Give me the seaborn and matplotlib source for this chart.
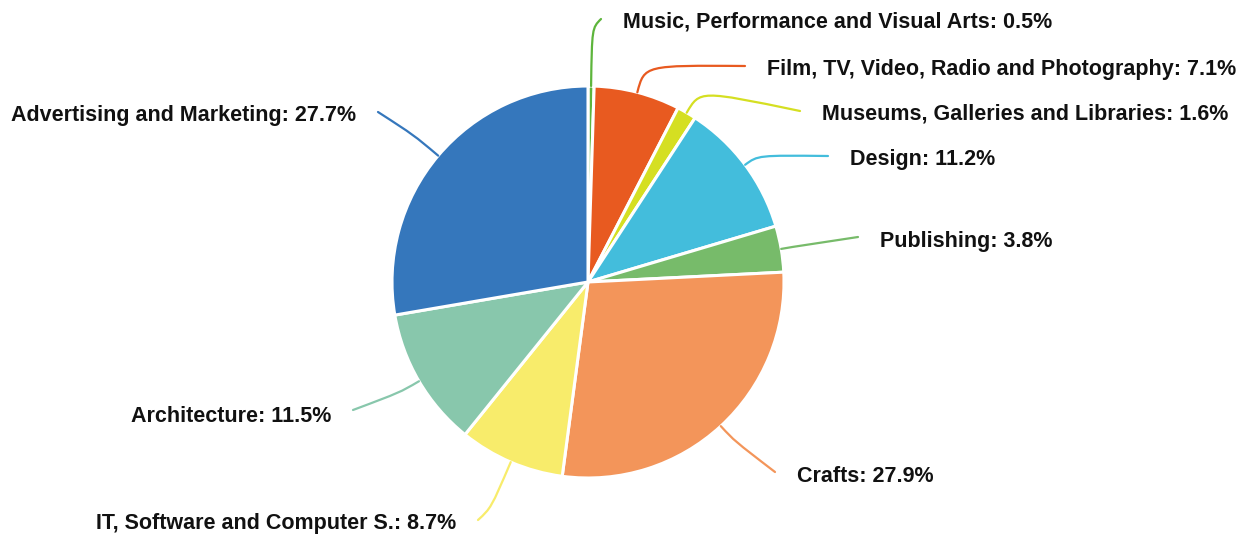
import numpy as np
import matplotlib
matplotlib.use("Agg")
import matplotlib.pyplot as plt
from matplotlib.path import Path
from matplotlib.patches import PathPatch
import seaborn as sns

sns.set_theme(style="white")
plt.rcParams["font.family"] = ["Liberation Sans", "DejaVu Sans"]

# Share of creative-industry businesses by sector (clockwise from the top)
sectors = [
    "Music, Performance and Visual Arts",
    "Film, TV, Video, Radio and Photography",
    "Museums, Galleries and Libraries",
    "Design",
    "Publishing",
    "Crafts",
    "IT, Software and Computer S.",
    "Architecture",
    "Advertising and Marketing",
]
shares = [0.5, 7.1, 1.6, 11.2, 3.8, 27.9, 8.7, 11.5, 27.7]
colors = ["#5db53c", "#e85a20", "#d5df22", "#43bddc", "#77bb6a",
          "#f3955a", "#f8ec6b", "#88c7ac", "#3577bc"]

# Label layout in pixel coordinates (y measured from the top edge)
label_end = [(601, 19), (745, 66), (800, 111), (828, 156), (858, 237),
             (775, 472), (478, 520), (353, 410), (378, 112)]
elbow_len = [58, 28, 26, 16, 12, 20, 50, 22, 32]
text_drop = [3, 3, 3, 3, 4, 5, 3, 6, 4]

W, H = 1243, 535
fig = plt.figure(figsize=(W / 100, H / 100), dpi=100)
ax = fig.add_axes([0, 0, 1, 1])
ax.set_xlim(0, W)
ax.set_ylim(0, H)
ax.set_aspect("equal")
ax.axis("off")

cx, cy, R = 588, H - 282, 196
wedges, _ = ax.pie(
    shares, colors=colors, startangle=90, counterclock=False,
    center=(cx, cy), radius=R,
    wedgeprops=dict(edgecolor="white", linewidth=2.2),
)
ax.set_xlim(0, W)
ax.set_ylim(0, H)

for w, name, val, col, (ex, ey), d, dy in zip(wedges, sectors, shares, colors,
                                              label_end, elbow_len, text_drop):
    mid = np.deg2rad((w.theta1 + w.theta2) / 2)
    ux, uy = np.cos(mid), np.sin(mid)
    p0 = (cx + R * ux, cy + R * uy)
    p1 = (cx + (R + d) * ux, cy + (R + d) * uy)
    p3 = (ex, H - ey)
    path = Path([p0, p1, p1, p3],
                [Path.MOVETO, Path.CURVE4, Path.CURVE4, Path.CURVE4])
    ax.add_patch(PathPatch(path, facecolor="none", edgecolor=col,
                           linewidth=1.6, capstyle="round"))
    right = ux >= 0
    tx = ex + 22 if right else ex - 22
    ax.text(tx, H - ey - dy, f"{name}: {val}%", ha="left" if right else "right",
            va="center", fontsize=15.5, fontweight="bold", color="#111111")

fig.savefig("out.png", dpi=100)
